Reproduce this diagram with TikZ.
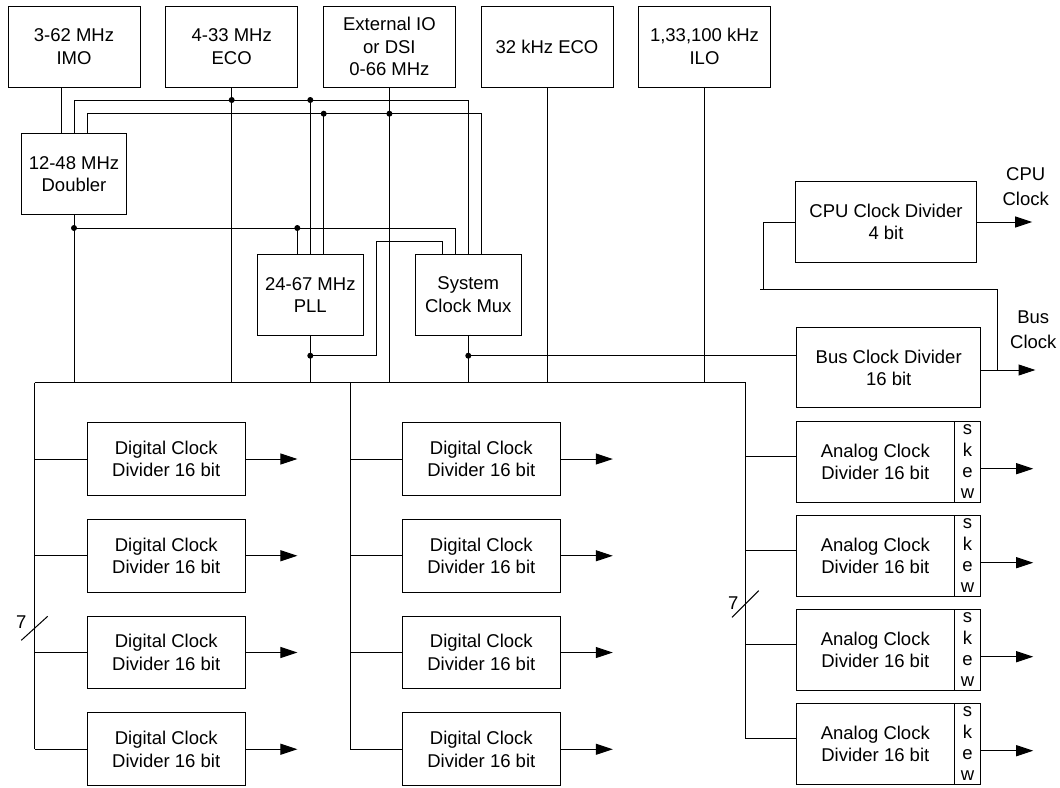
\documentclass[tikz,border=0pt]{standalone}
\usepackage{fontspec}
\setmainfont{Liberation Sans}
\usetikzlibrary{arrows.meta,positioning,calc}

\begin{document}
\begin{tikzpicture}[x=1pt, y=-1pt, line width=1pt,
    font=\fontsize{18.5}{22.5}\selectfont,
    blk/.style={draw, inner sep=0pt, align=center, minimum height=81pt},
    src/.style={blk, minimum width=132pt},
    mid/.style={blk, minimum width=105.4pt},
    dvd/.style={blk, minimum width=158pt, minimum height=72.7pt},
    ana/.style={blk, minimum width=158pt, minimum height=80.3pt},
    skw/.style={blk, minimum width=26.4pt, minimum height=80.3pt,
                font=\fontsize{18.5}{21.3}\selectfont},
    outarr/.style={-{Triangle[length=17pt,width=11pt]}}]
  \useasboundingbox (0,0) rectangle (1060,787);

  % Clock sources
  \node[src] (imo)   at (74,46.5)    {3-62 MHz\\IMO};
  \node[src] (eco)   at (231.7,46.5) {4-33 MHz\\ECO};
  \node[src] (ext)   at (389.4,46.5) {External IO\\or DSI\\0-66 MHz};
  \node[src] (eco32) at (547,46.5)   {32 kHz ECO};
  \node[src] (ilo)   at (704.5,46.5) {1,33,100 kHz\\ILO};

  % Doubler, PLL, mux
  \node[mid] (dbl) at (74,174)      {12-48 MHz\\Doubler};
  \node[mid] (pll) at (310.3,294.8) {24-67 MHz\\PLL};
  \node[mid] (mux) at (468.3,294.8) {System\\Clock Mux};

  % CPU and bus dividers
  \node[blk, minimum width=181.4pt, minimum height=80.6pt] (cpu) at (886,222) {CPU Clock Divider\\4 bit};
  \node[blk, minimum width=184pt, minimum height=80.3pt] (bdiv) at (888.7,367.8) {Bus Clock Divider\\16 bit};
  \node[align=center, font=\fontsize{18.5}{24.8}\selectfont] (cpulbl) at (1025.7,186.8) {CPU\\Clock};
  \node[align=center, font=\fontsize{18.5}{24.6}\selectfont] (buslbl) at (1033.3,330) {Bus\\Clock};

  % Wire rows and ports
  \coordinate (ya) at (0,100);
  \coordinate (yb) at (0,113.7);
  \coordinate (yc) at (0,228);
  \coordinate (yout) at (0,355.7);
  \coordinate (busL) at (34.7,382.7);
  \coordinate (busM) at (350,382.7);
  \coordinate (busR) at (745.7,382.7);
  \coordinate (imoO) at ($(imo.south)+(-13,0)$);
  \coordinate (dblB) at ($(dbl.north)+(13.3,0)$);
  \coordinate (pllC) at ($(pll.north)+(-13,0)$);
  \coordinate (pllB) at ($(pll.north)+(13.4,0)$);
  \coordinate (muxP) at ($(mux.north)+(-26.3,0)$);
  \coordinate (muxC) at ($(mux.north)+(-13.3,0)$);
  \coordinate (muxB) at ($(mux.north)+(13,0)$);
  \coordinate (pjog) at (376.3,241.7);

  \draw (imoO) -- (imoO |- dbl.north);
  \draw (dbl.north) |- (mux.north |- ya) -- (mux.north);
  \draw (dblB) |- (muxB |- yb) -- (muxB);
  \draw (dbl.south |- yc) -| (muxC);
  \draw (pll.north |- ya) -- (pll.north);
  \draw (pllB |- yb) -- (pllB);
  \draw (pllC |- yc) -- (pllC);
  \draw (pll.south |- yout) -| (pjog) -| (muxP);
  \draw (mux.south |- yout) -- (bdiv.west |- yout);
  \foreach \n in {dbl,pll,mux,eco,ext,eco32,ilo}
    \draw (\n.south) -- (\n.south |- busL);
  \foreach \p in {eco.south |- ya, pll.north |- ya, pllB |- yb, ext.south |- yb,
                  dbl.south |- yc, pllC |- yc, pll.south |- yout, mux.south |- yout}
    \fill (\p) circle (3pt);

  % Divider bus
  \draw (busL) -- (busR);
  \foreach \i in {1,...,4} {
    \node[dvd] (dl\i) at (166.2,{459+96.75*(\i-1)}) {Digital Clock\\Divider 16 bit};
    \node[dvd] (dm\i) at (481.3,{459+96.75*(\i-1)}) {Digital Clock\\Divider 16 bit};
    \node[ana] (an\i) at (875.3,{461.9+94*(\i-1)}) {Analog Clock\\Divider 16 bit};
    \node[skw] (sk\i) at (967.5,{461.9+94*(\i-1)}) {s\\k\\e\\w};
    \draw (busL |- dl\i.west) -- (dl\i.west);
    \draw (busM |- dm\i.west) -- (dm\i.west);
    \draw ($(busR |- an\i.west)+(0,-5.2)$) -- ($(an\i.west)+(0,-5.2)$);
    \draw[outarr] (dl\i.east) -- ++(51.7,0);
    \draw[outarr] (dm\i.east) -- ++(52,0);
    \draw[outarr] ($(sk\i.east)+(0,6.8)$) -- ++(52,0);
  }
  \draw (busL) -- (busL |- dl4.west);
  \draw (busM) -- (busM |- dm4.west);
  \draw (busR) -- ($(busR |- an4.west)+(0,-5.2)$);

  % Bus width marks
  \draw (21.3,640.3) -- (47.7,616.3);
  \node (w7a) at (21.2,621.7) {7};
  \draw (732,617.3) -- (758.7,590.7);
  \node (w7b) at (733.2,603) {7};

  % CPU and bus clock outputs
  \coordinate (cpujog) at (763,289);
  \coordinate (bcl) at (997,370);
  \draw[outarr] (cpu.east) -- ++(55,0);
  \draw (cpu.west) -| (cpujog);
  \draw ($(cpujog)+(-2.7,0)$) -| (bcl);
  \draw[outarr] (bdiv.east |- bcl) -- ++(54.3,0);
\end{tikzpicture}
\end{document}
